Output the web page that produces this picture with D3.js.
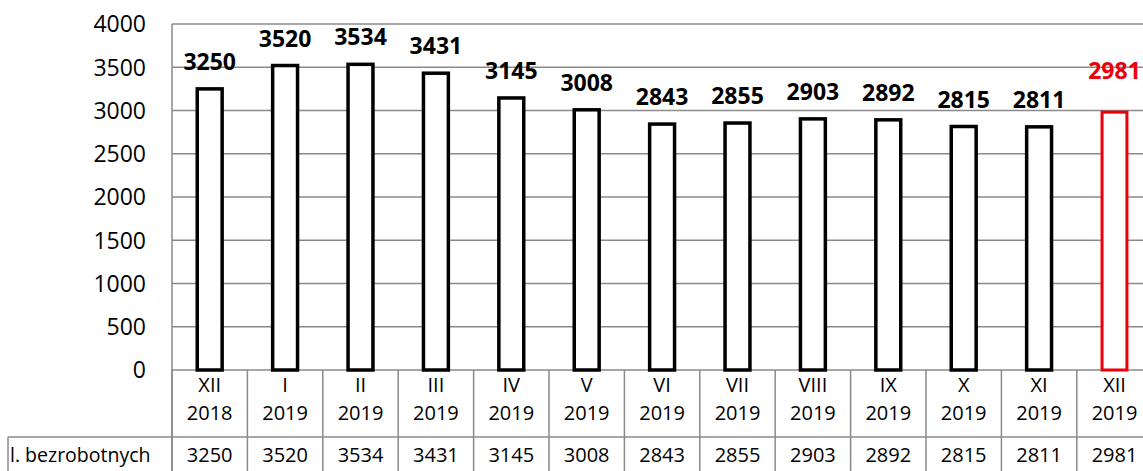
<!DOCTYPE html>
<html><head><meta charset="utf-8">
<script src="https://cdn.jsdelivr.net/npm/d3@7"></script>
<style>body{margin:0;background:#fff;} svg{display:block;}</style>
</head><body>
<script>
const months = ["XII","I","II","III","IV","V","VI","VII","VIII","IX","X","XI","XII"];
const years = ["2018","2019","2019","2019","2019","2019","2019","2019","2019","2019","2019","2019","2019"];
const values = [3250,3520,3534,3431,3145,3008,2843,2855,2903,2892,2815,2811,2981];
const yTicks = [0,500,1000,1500,2000,2500,3000,3500,4000];
const rowLabel = "l. bezrobotnych";

(function(){
const W = 1143, H = 471;
const plotLeft = 172, colW = 75.4, plotTop = 24, zeroY = 370, headBottom = 437;
const font = "'Open Sans', sans-serif";
const grid = "#8a8a8a";
const red = "#e8000b";

const svg = d3.select("body").append("svg").attr("width", W).attr("height", H);

const x = d3.scaleBand().domain(d3.range(values.length))
  .range([plotLeft, plotLeft + colW * values.length]).paddingInner(0.63).paddingOuter(0.315);
const y = d3.scaleLinear().domain([0, 4000]).range([zeroY, plotTop]);

// gridlines
svg.append("g").selectAll("line").data(yTicks).join("line")
  .attr("x1", plotLeft).attr("x2", W + 20)
  .attr("y1", d => y(d)).attr("y2", d => y(d))
  .attr("stroke", grid).attr("stroke-width", 1.5);

// y axis line
svg.append("line").attr("x1", plotLeft).attr("x2", plotLeft).attr("y1", plotTop).attr("y2", H)
  .attr("stroke", grid).attr("stroke-width", 1.5);

// y tick labels
svg.append("g").selectAll("text").data(yTicks).join("text")
  .attr("x", 146).attr("y", d => y(d)).attr("dy", "0.36em")
  .attr("text-anchor", "end").attr("font-family", font).attr("font-size", 23)
  .attr("fill", "#000").text(d => d);

// bars
const last = values.length - 1;
svg.append("g").selectAll("rect").data(values).join("rect")
  .attr("x", (d, i) => x(i) + 1.5)
  .attr("y", d => y(d))
  .attr("width", x.bandwidth() - 3)
  .attr("height", d => zeroY - y(d))
  .attr("fill", "#fff")
  .attr("stroke", (d, i) => i === last ? red : "#000")
  .attr("stroke-width", (d, i) => i === last ? 3 : 3.5);

// value labels
svg.append("g").selectAll("text").data(values).join("text")
  .attr("x", (d, i) => x(i) + x.bandwidth() / 2)
  .attr("y", (d, i) => y(d) - (i === last ? 33 : 19))
  .attr("text-anchor", "middle").attr("font-family", font).attr("font-size", 23)
  .attr("font-weight", "bold")
  .attr("fill", (d, i) => i === last ? red : "#000")
  .text(d => d);

// table
const colX = i => plotLeft + colW * i;
const tg = svg.append("g");
tg.selectAll("line.v").data(d3.range(values.length + 1)).join("line")
  .attr("class", "v")
  .attr("x1", i => colX(i)).attr("x2", i => colX(i))
  .attr("y1", zeroY).attr("y2", H)
  .attr("stroke", grid).attr("stroke-width", 1.5);
tg.append("line").attr("x1", 8).attr("x2", W + 20).attr("y1", headBottom).attr("y2", headBottom)
  .attr("stroke", grid).attr("stroke-width", 1.5);
tg.append("line").attr("x1", 8).attr("x2", 8).attr("y1", headBottom).attr("y2", H)
  .attr("stroke", grid).attr("stroke-width", 1.5);

tg.selectAll("text.m").data(months).join("text").attr("class", "m")
  .attr("x", (d, i) => colX(i) + colW / 2).attr("y", 385).attr("dy", "0.36em")
  .attr("text-anchor", "middle").attr("font-family", font).attr("font-size", 20)
  .text(d => d);
tg.selectAll("text.yr").data(years).join("text").attr("class", "yr")
  .attr("x", (d, i) => colX(i) + colW / 2).attr("y", 413).attr("dy", "0.36em")
  .attr("text-anchor", "middle").attr("font-family", font).attr("font-size", 20)
  .text(d => d);
tg.selectAll("text.val").data(values).join("text").attr("class", "val")
  .attr("x", (d, i) => colX(i) + colW / 2).attr("y", 455).attr("dy", "0.36em")
  .attr("text-anchor", "middle").attr("font-family", font).attr("font-size", 20)
  .text(d => d);
tg.append("text").attr("x", 10).attr("y", 455).attr("dy", "0.36em")
  .attr("font-family", font).attr("font-size", 19.5).text(rowLabel);
})();
</script>
</body></html>
